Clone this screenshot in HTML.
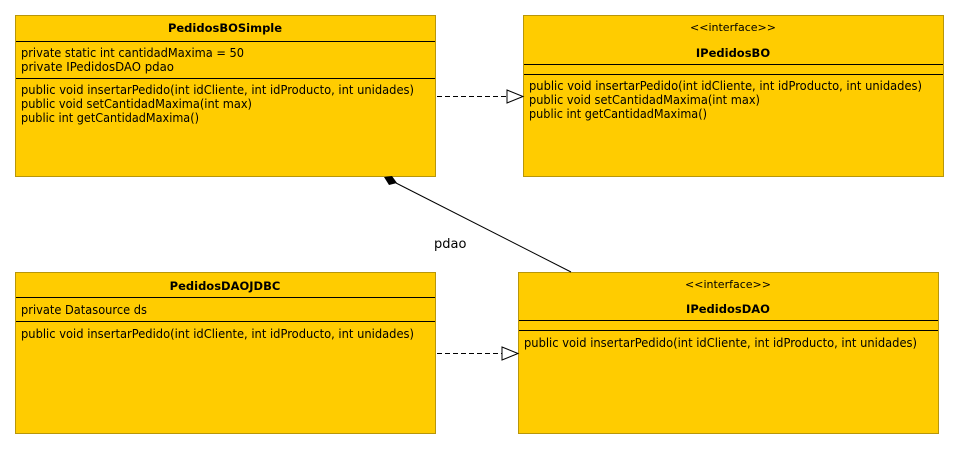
<!DOCTYPE html>
<html><head><meta charset="utf-8"><style>
html,body{margin:0;padding:0;background:#fff;width:959px;height:449px;overflow:hidden}
svg text{font-family:"DejaVu Sans","Liberation Sans",sans-serif;font-size:12px;fill:#000}
.b{font-weight:bold;font-size:11.5px}
.s{font-size:11px}
</style></head><body>
<svg width="959" height="449" viewBox="0 0 959 449" xmlns="http://www.w3.org/2000/svg">
<g stroke="#b8960a" stroke-width="1" fill="#ffcc00">
<rect x="15.5" y="15.5" width="420" height="161"/>
<rect x="523.5" y="15.5" width="420" height="161"/>
<rect x="15.5" y="272.5" width="420" height="161"/>
<rect x="518.5" y="272.5" width="420" height="161"/>
</g>
<g stroke="#000" stroke-width="1">
<line x1="16" y1="41.5" x2="435" y2="41.5"/>
<line x1="16" y1="78.5" x2="435" y2="78.5"/>
<line x1="524" y1="64.5" x2="943" y2="64.5"/>
<line x1="524" y1="74.5" x2="943" y2="74.5"/>
<line x1="16" y1="297.5" x2="435" y2="297.5"/>
<line x1="16" y1="321.5" x2="435" y2="321.5"/>
<line x1="519" y1="320.5" x2="938" y2="320.5"/>
<line x1="519" y1="330.5" x2="938" y2="330.5"/>
</g>
<text class="b" x="225" y="32" text-anchor="middle">PedidosBOSimple</text>
<text x="21" y="57" textLength="223" lengthAdjust="spacingAndGlyphs">private static int cantidadMaxima = 50</text>
<text x="21" y="71" textLength="153" lengthAdjust="spacingAndGlyphs">private IPedidosDAO pdao</text>
<text x="21" y="94" textLength="393" lengthAdjust="spacingAndGlyphs">public void insertarPedido(int idCliente, int idProducto, int unidades)</text>
<text x="21" y="108" textLength="231" lengthAdjust="spacingAndGlyphs">public void setCantidadMaxima(int max)</text>
<text x="21" y="122" textLength="178" lengthAdjust="spacingAndGlyphs">public int getCantidadMaxima()</text>
<text class="s" x="733" y="31" text-anchor="middle">&lt;&lt;interface&gt;&gt;</text>
<text class="b" x="733" y="57" text-anchor="middle">IPedidosBO</text>
<text x="529" y="90" textLength="393" lengthAdjust="spacingAndGlyphs">public void insertarPedido(int idCliente, int idProducto, int unidades)</text>
<text x="529" y="104" textLength="231" lengthAdjust="spacingAndGlyphs">public void setCantidadMaxima(int max)</text>
<text x="529" y="118" textLength="178" lengthAdjust="spacingAndGlyphs">public int getCantidadMaxima()</text>
<text class="b" x="225" y="290" text-anchor="middle">PedidosDAOJDBC</text>
<text x="21" y="314" textLength="126" lengthAdjust="spacingAndGlyphs">private Datasource ds</text>
<text x="21" y="338" textLength="393" lengthAdjust="spacingAndGlyphs">public void insertarPedido(int idCliente, int idProducto, int unidades)</text>
<text class="s" x="728" y="288" text-anchor="middle">&lt;&lt;interface&gt;&gt;</text>
<text class="b" x="728" y="313" text-anchor="middle">IPedidosDAO</text>
<text x="524" y="347" textLength="393" lengthAdjust="spacingAndGlyphs">public void insertarPedido(int idCliente, int idProducto, int unidades)</text>
<g stroke="#000" stroke-width="1" fill="none">
<line x1="437" y1="96.5" x2="507" y2="96.5" stroke-dasharray="5,3"/>
<polygon points="507,90 523,96.5 507,103" fill="#fff"/>
<line x1="437" y1="353.5" x2="502" y2="353.5" stroke-dasharray="5,3"/>
<polygon points="502,347 518,353.5 502,360" fill="#fff"/>
<line x1="396" y1="183" x2="571" y2="272"/>
</g>
<polygon points="384,177 392,176 397,183 389,185" fill="#000"/>
<text x="434" y="248" style="font-size:13px">pdao</text>
</svg>
</body></html>
